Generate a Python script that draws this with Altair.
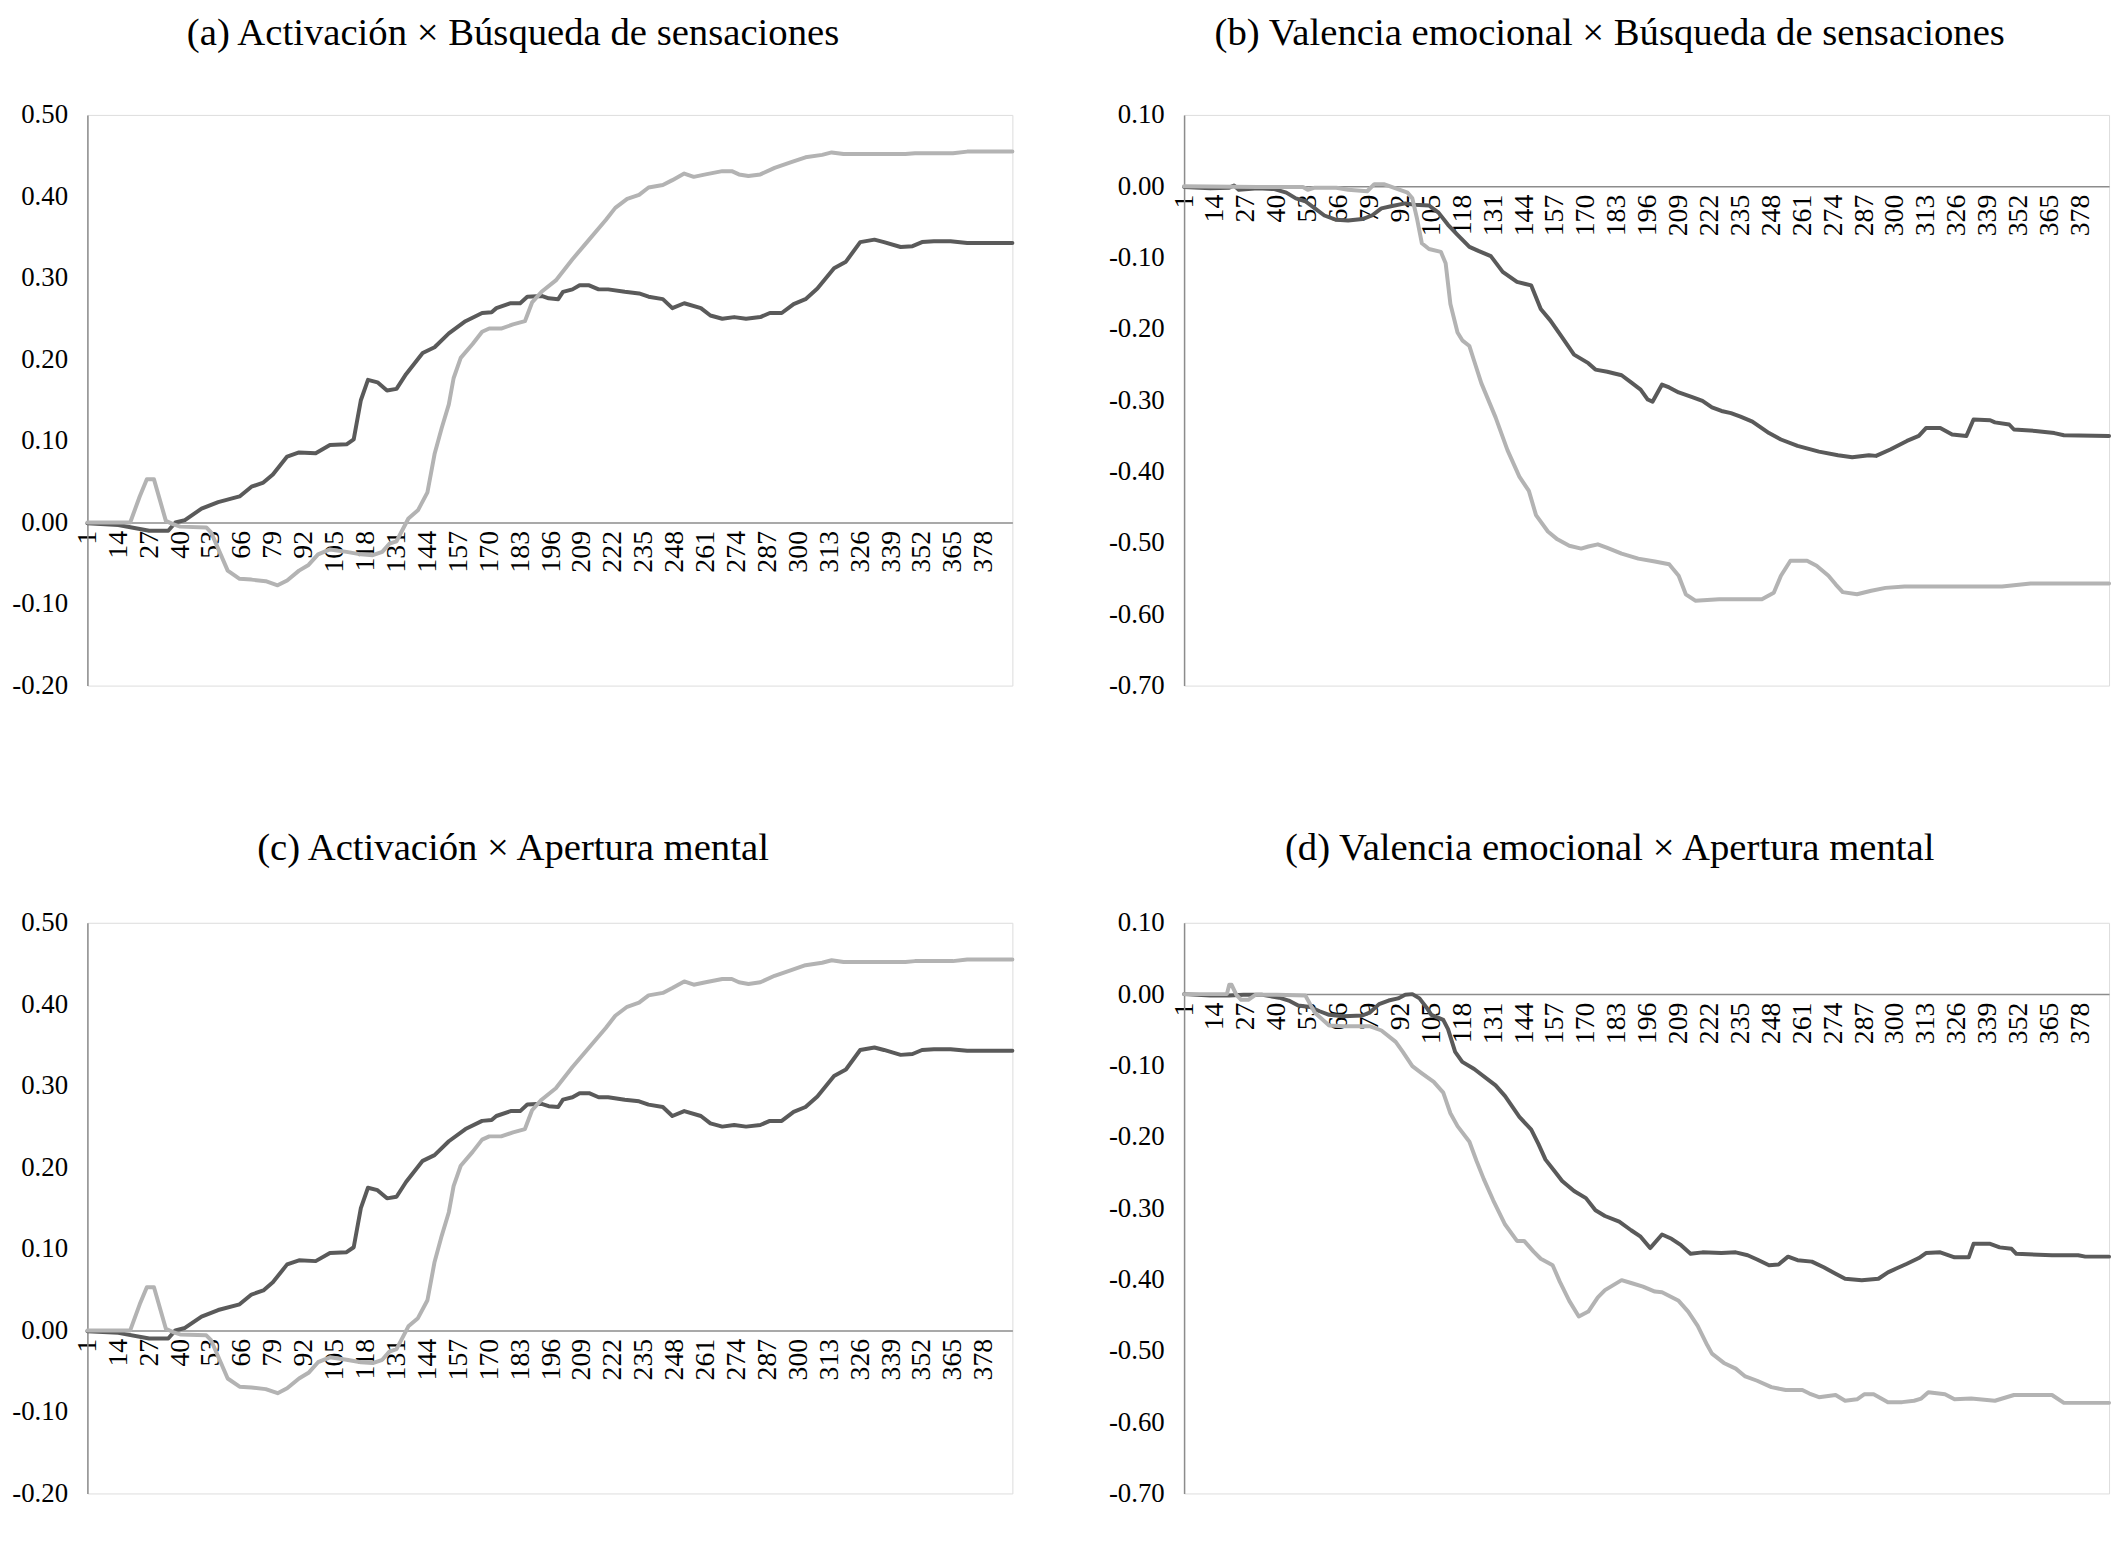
import altair as alt
import pandas as pd

# ---------------- data ----------------
x_ticks = [1, 14, 27, 40, 53, 66, 79, 92, 105, 118, 131, 144, 157, 170, 183,
           196, 209, 222, 235, 248, 261, 274, 287, 300, 313, 326, 339, 352, 365, 378]
x_last = 390

yticks_top = [-0.2, -0.1, 0.0, 0.1, 0.2, 0.3, 0.4, 0.5]
yticks_val = [-0.7, -0.6, -0.5, -0.4, -0.3, -0.2, -0.1, 0.0, 0.1]

titles = ["(a) Activación × Búsqueda de sensaciones",
          "(b) Valencia emocional × Búsqueda de sensaciones",
          "(c) Activación × Apertura mental",
          "(d) Valencia emocional × Apertura mental"]

a_dark = [(1, -0.001), (14, -0.003), (27, -0.010), (35, -0.010), (38, 0.000), (42, 0.003),
          (49, 0.017), (56, 0.025), (65, 0.032), (70, 0.044), (75, 0.049), (79, 0.059),
          (85, 0.081), (90, 0.086), (97, 0.085), (103, 0.095), (110, 0.096), (113, 0.102),
          (116, 0.150), (119, 0.175), (123, 0.172), (127, 0.162), (131, 0.164), (135, 0.182),
          (142, 0.208), (147, 0.215), (153, 0.232), (160, 0.247), (167, 0.257), (171, 0.258),
          (173, 0.263), (179, 0.269), (183, 0.269), (186, 0.277), (192, 0.278), (195, 0.275),
          (199, 0.274), (201, 0.283), (205, 0.286), (208, 0.291), (212, 0.291), (216, 0.286),
          (220, 0.286), (227, 0.283), (233, 0.281), (237, 0.277), (243, 0.274), (247, 0.263),
          (252, 0.269), (259, 0.263), (263, 0.254), (268, 0.250), (273, 0.252), (278, 0.250),
          (284, 0.252), (288, 0.257), (293, 0.257), (298, 0.268), (303, 0.274), (308, 0.287),
          (315, 0.312), (320, 0.320), (326, 0.344), (332, 0.347), (336, 0.344), (343, 0.338),
          (348, 0.339), (352, 0.344), (357, 0.345), (364, 0.345), (371, 0.343), (390, 0.343)]

a_light = [(1, 0.0), (19, 0.0), (23, 0.032), (26, 0.053), (29, 0.053), (34, 0.002), (37, -0.002),
           (40, -0.005), (51, -0.006), (53, -0.012), (56, -0.032), (60, -0.059), (65, -0.069),
           (70, -0.070), (76, -0.072), (81, -0.077), (85, -0.071), (90, -0.059), (94, -0.052),
           (98, -0.039), (103, -0.033), (110, -0.036), (116, -0.039), (121, -0.040), (125, -0.036),
           (128, -0.026), (131, -0.023), (136, 0.005), (140, 0.015), (144, 0.037), (147, 0.084),
           (150, 0.116), (153, 0.145), (155, 0.177), (158, 0.202), (163, 0.219), (167, 0.234),
           (170, 0.238), (175, 0.238), (180, 0.243), (185, 0.247), (188, 0.270), (192, 0.283),
           (198, 0.297), (205, 0.323), (212, 0.347), (219, 0.371), (223, 0.386), (228, 0.397),
           (233, 0.402), (237, 0.411), (243, 0.414), (247, 0.420), (252, 0.428), (256, 0.424),
           (261, 0.427), (268, 0.431), (272, 0.431), (275, 0.427), (279, 0.425), (284, 0.427),
           (290, 0.435), (297, 0.442), (303, 0.448), (310, 0.451), (314, 0.454), (319, 0.452),
           (331, 0.452), (345, 0.452), (349, 0.453), (365, 0.453), (371, 0.455), (390, 0.455)]

b_dark = [(1, -0.001), (12, -0.003), (20, -0.002), (22, 0.001), (24, -0.005), (32, -0.003),
          (39, -0.004), (44, -0.009), (48, -0.017), (52, -0.021), (56, -0.031), (60, -0.041),
          (65, -0.047), (70, -0.048), (76, -0.046), (80, -0.041), (84, -0.031), (88, -0.028),
          (94, -0.024), (98, -0.026), (104, -0.027), (108, -0.037), (112, -0.054), (116, -0.068),
          (121, -0.085), (125, -0.091), (130, -0.098), (135, -0.120), (141, -0.134), (147, -0.139),
          (151, -0.172), (155, -0.188), (160, -0.212), (165, -0.236), (171, -0.248), (174, -0.257),
          (179, -0.260), (185, -0.265), (189, -0.275), (193, -0.285), (196, -0.299), (198, -0.302),
          (202, -0.278), (205, -0.282), (209, -0.289), (215, -0.296), (219, -0.301), (223, -0.310),
          (227, -0.315), (231, -0.318), (235, -0.323), (240, -0.330), (247, -0.346), (252, -0.355),
          (259, -0.364), (268, -0.372), (276, -0.377), (282, -0.380), (289, -0.377), (292, -0.378),
          (298, -0.369), (305, -0.357), (310, -0.350), (313, -0.339), (319, -0.339), (324, -0.348),
          (330, -0.350), (333, -0.327), (340, -0.328), (342, -0.331), (348, -0.334), (350, -0.341),
          (359, -0.343), (367, -0.346), (371, -0.349), (390, -0.350)]

b_light = [(1, 0.0), (32, -0.001), (51, -0.001), (53, -0.005), (56, -0.002), (65, -0.002),
           (70, -0.005), (78, -0.007), (81, 0.003), (85, 0.003), (90, -0.003), (95, -0.009),
           (97, -0.017), (99, -0.046), (101, -0.080), (104, -0.088), (109, -0.092), (111, -0.108),
           (113, -0.165), (116, -0.205), (118, -0.216), (121, -0.224), (123, -0.245), (126, -0.276),
           (132, -0.324), (137, -0.370), (142, -0.407), (146, -0.427), (149, -0.461), (154, -0.484),
           (158, -0.495), (163, -0.504), (168, -0.508), (171, -0.505), (175, -0.502), (179, -0.507),
           (185, -0.515), (192, -0.522), (199, -0.526), (205, -0.530), (209, -0.546), (212, -0.572),
           (216, -0.581), (226, -0.579), (244, -0.579), (249, -0.570), (252, -0.546), (256, -0.525),
           (263, -0.525), (267, -0.532), (272, -0.546), (275, -0.558), (278, -0.569), (284, -0.572),
           (290, -0.567), (296, -0.563), (304, -0.561), (345, -0.561), (357, -0.557), (390, -0.557)]

c_dark = list(a_dark)
c_light = list(a_light)

d_dark = [(1, 0.0), (12, -0.002), (20, -0.002), (26, -0.001), (34, -0.001), (41, -0.005),
          (45, -0.009), (49, -0.016), (54, -0.018), (58, -0.024), (62, -0.029), (68, -0.031),
          (76, -0.030), (79, -0.026), (83, -0.014), (87, -0.009), (91, -0.006), (94, -0.001),
          (97, 0.0), (100, -0.006), (103, -0.019), (105, -0.029), (110, -0.036), (112, -0.049),
          (115, -0.081), (118, -0.095), (123, -0.105), (132, -0.128), (136, -0.143), (142, -0.172),
          (147, -0.190), (150, -0.210), (153, -0.232), (157, -0.249), (160, -0.262), (165, -0.276),
          (170, -0.286), (174, -0.303), (178, -0.311), (184, -0.319), (189, -0.331), (193, -0.340),
          (197, -0.356), (202, -0.337), (206, -0.343), (210, -0.352), (214, -0.364), (219, -0.362),
          (227, -0.363), (233, -0.362), (238, -0.366), (242, -0.372), (247, -0.380), (251, -0.379),
          (255, -0.368), (259, -0.373), (265, -0.375), (270, -0.383), (275, -0.392), (279, -0.399),
          (286, -0.401), (293, -0.399), (297, -0.390), (301, -0.384), (305, -0.378), (310, -0.370),
          (313, -0.363), (319, -0.362), (325, -0.369), (331, -0.369), (333, -0.350), (340, -0.350),
          (344, -0.355), (349, -0.357), (351, -0.364), (366, -0.366), (377, -0.366), (380, -0.368),
          (390, -0.368)]

d_light = [(1, 0.0), (19, 0.0), (20, 0.013), (21, 0.013), (23, -0.001), (25, -0.008), (28, -0.008),
           (31, -0.001), (40, -0.001), (52, -0.002), (54, -0.014), (56, -0.026), (62, -0.044),
           (68, -0.045), (79, -0.045), (84, -0.051), (90, -0.067), (93, -0.081), (97, -0.101),
           (101, -0.111), (106, -0.123), (110, -0.138), (113, -0.167), (116, -0.185), (121, -0.207),
           (124, -0.234), (127, -0.259), (131, -0.289), (136, -0.323), (141, -0.346), (144, -0.346),
           (148, -0.361), (151, -0.371), (156, -0.380), (159, -0.403), (163, -0.430), (167, -0.452),
           (171, -0.445), (175, -0.425), (178, -0.415), (185, -0.401), (189, -0.405), (194, -0.410),
           (199, -0.417), (202, -0.418), (209, -0.430), (213, -0.445), (217, -0.465), (221, -0.492),
           (223, -0.504), (228, -0.517), (233, -0.525), (237, -0.536), (242, -0.542), (248, -0.551),
           (254, -0.555), (261, -0.555), (264, -0.560), (268, -0.565), (275, -0.562), (279, -0.570),
           (284, -0.568), (287, -0.561), (291, -0.561), (297, -0.572), (303, -0.572), (308, -0.570),
           (311, -0.567), (314, -0.558), (321, -0.561), (325, -0.568), (332, -0.567), (342, -0.570),
           (350, -0.562), (366, -0.562), (371, -0.573), (390, -0.573)]

# ---------------- styling ----------------
FONT = "Liberation Serif"
DARK = "#5a5a5a"
LIGHT = "#b3b3b3"
AXIS_C = "#8c8c8c"
W, H = 932, 575


def panel(title, dark, light, yticks, title_offset):
    ymin, ymax = yticks[0], yticks[-1]
    zero_off = -H * (0 - ymin) / (ymax - ymin)
    x = alt.X("t:Q",
              scale=alt.Scale(domain=[1, x_last], nice=False, zero=False),
              axis=alt.Axis(values=x_ticks, labelAngle=270, offset=zero_off,
                            ticks=False, grid=False, domainColor=AXIS_C, domainWidth=1.5,
                            labelFont=FONT, labelFontSize=28, labelColor="black",
                            labelPadding=8, labelOverlap=False, labelFlush=False,
                            labelBound=False, title=None))
    y = alt.Y("v:Q",
              scale=alt.Scale(domain=[ymin, ymax], nice=False, zero=False),
              axis=alt.Axis(values=yticks, ticks=False, grid=False,
                            domainColor=AXIS_C, domainWidth=1.5,
                            labelExpr="(datum.value < -0.0001 ? '-' : '') + format(abs(datum.value), '.2f')",
                            labelFont=FONT, labelFontSize=27, labelColor="black",
                            labelPadding=20, labelFlush=False, title=None))
    ddf = pd.DataFrame(dark, columns=["t", "v"])
    ldf = pd.DataFrame(light, columns=["t", "v"])
    dl = alt.Chart(ddf).mark_line(color=DARK, strokeWidth=4, strokeCap="round",
                                  strokeJoin="round").encode(x=x, y=y)
    ll = alt.Chart(ldf).mark_line(color=LIGHT, strokeWidth=4, strokeCap="round",
                                  strokeJoin="round").encode(x=x, y=y)
    return alt.layer(dl, ll).properties(
        width=W, height=H,
        title=alt.TitleParams(title, font=FONT, fontSize=39, fontWeight="normal",
                              color="black", anchor="middle", frame="bounds",
                              offset=title_offset))


pa = panel(titles[0], a_dark, a_light, yticks_top, 48)
pb = panel(titles[1], b_dark, b_light, yticks_val, 48)
pc = panel(titles[2], c_dark, c_light, yticks_top, 41)
pd_ = panel(titles[3], d_dark, d_light, yticks_val, 41)

chart = alt.vconcat(
    alt.hconcat(pa, pb, spacing=93),
    alt.hconcat(pc, pd_, spacing=93),
    spacing=130,
).properties(padding={"left": 3, "top": 0, "right": 5, "bottom": 5}
).configure_view(stroke=None).configure(background="white")

chart.save("out.html", embed_options={"renderer": "svg", "actions": False})
